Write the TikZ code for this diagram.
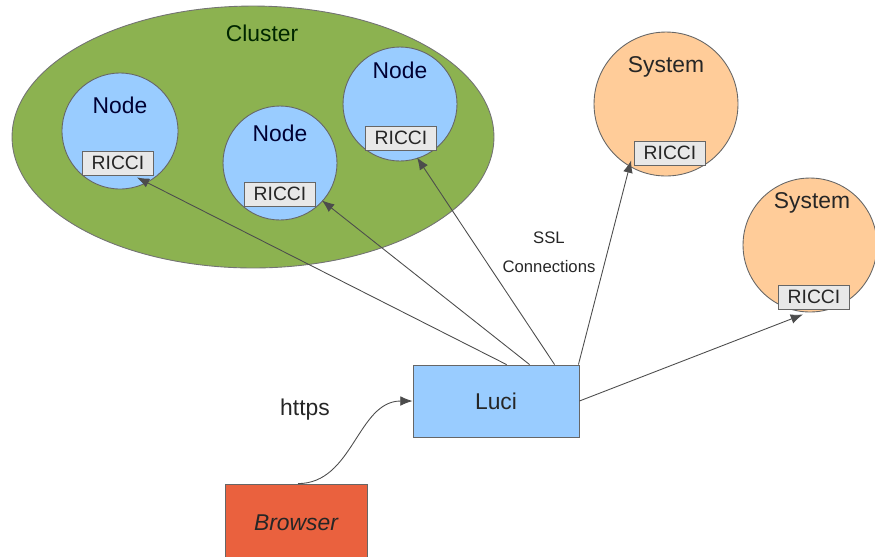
\documentclass[tikz,border=0pt]{standalone}
\usepackage{fontspec}
\setmainfont{Liberation Sans}
\usetikzlibrary{shapes.geometric,arrows.meta,calc,positioning}

\definecolor{clustergreen}{RGB}{140,178,80}
\definecolor{hostblue}{RGB}{153,204,255}
\definecolor{sysorange}{RGB}{255,204,153}
\definecolor{ricgray}{RGB}{232,232,232}
\definecolor{browserred}{RGB}{234,97,62}

\begin{document}
\begin{tikzpicture}[x=0.02cm,y=-0.02cm,
    lbl/.style={font=\fontsize{13}{15}\selectfont,text=black!85},
    host/.style={circle,draw=black!60,line width=0.5pt,inner sep=0pt},
    ricci/.style={draw=black!60,fill=ricgray,line width=0.5pt,minimum width=1.42cm,
      minimum height=0.48cm,inner sep=0pt,font=\fontsize{11}{12}\selectfont,text=black!85},
    conn/.style={draw=black!70,line width=0.5pt,-{Latex[length=7pt,width=5.5pt]}}]
  \useasboundingbox (0,0) rectangle (875,556);

  % cluster with its three nodes
  \node[ellipse,draw=black!55,fill=clustergreen,line width=0.5pt,
    minimum width=9.64cm,minimum height=5.24cm] (cluster) at (253,137) {};
  \node[lbl,text=black!85!green] at (262,33) {Cluster};
  \node[host,fill=hostblue,minimum size=2.32cm] (nodeA) at (120,131) {};
  \node[host,fill=hostblue,minimum size=2.28cm] (nodeB) at (280,163) {};
  \node[host,fill=hostblue,minimum size=2.28cm] (nodeC) at (400,104) {};
  \node[lbl,text=black!80!blue] at (120,105) {Node};
  \node[lbl,text=black!80!blue] at (280,133) {Node};
  \node[lbl,text=black!80!blue] at (400,70) {Node};
  \node[ricci] (ricciA) at (118,163) {RICCI};
  \node[ricci] (ricciB) at (280,194) {RICCI};
  \node[ricci] (ricciC) at (401,138) {RICCI};

  % single systems
  \node[host,fill=sysorange,minimum size=2.88cm] (sysA) at (666,104) {};
  \node[host,fill=sysorange,minimum size=2.68cm] (sysB) at (810,245) {};
  \node[lbl] at (666,67) {System};
  \node[lbl] at (812,203) {System};
  \node[ricci] (ricciD) at (670,153) {RICCI};
  \node[ricci] (ricciE) at (814,297) {RICCI};

  % luci and browser
  \node[lbl,draw=black!60,fill=hostblue,line width=0.5pt,minimum width=3.32cm,
    minimum height=1.44cm] (luci) at (496,401) {Luci};
  \node[lbl,draw=black!60,fill=browserred,line width=0.5pt,minimum width=2.84cm,
    minimum height=1.56cm,font=\fontsize{13}{15}\selectfont\itshape] (browser) at (296,523) {Browser};

  \draw[conn] ($(luci.north west)+(94,0)$) -- ($(ricciA.south)+(19,2)$);
  \draw[conn] ($(luci.north west)+(117,0)$) -- ($(ricciB.south east)+(6,-6)$);
  \draw[conn] ($(luci.north west)+(142,0)$) -- ($(ricciC.south)+(16,7)$);
  \draw[conn] ($(luci.north east)+(-1,0)$) -- ($(ricciD.south west)+(-3,-5)$);
  \draw[conn] (luci.east) -- ($(ricciE.south)+(-11,5)$);
  \node[font=\fontsize{9.5}{16.5}\selectfont,text=black!85,align=center] (ssl) at (549,252) {SSL\\Connections};

  \draw[conn] ($(browser.north)+(2,0)$) to[out=0,in=180] (luci.west);
  \node[lbl] (https) at (305,410) {https};
\end{tikzpicture}
\end{document}
